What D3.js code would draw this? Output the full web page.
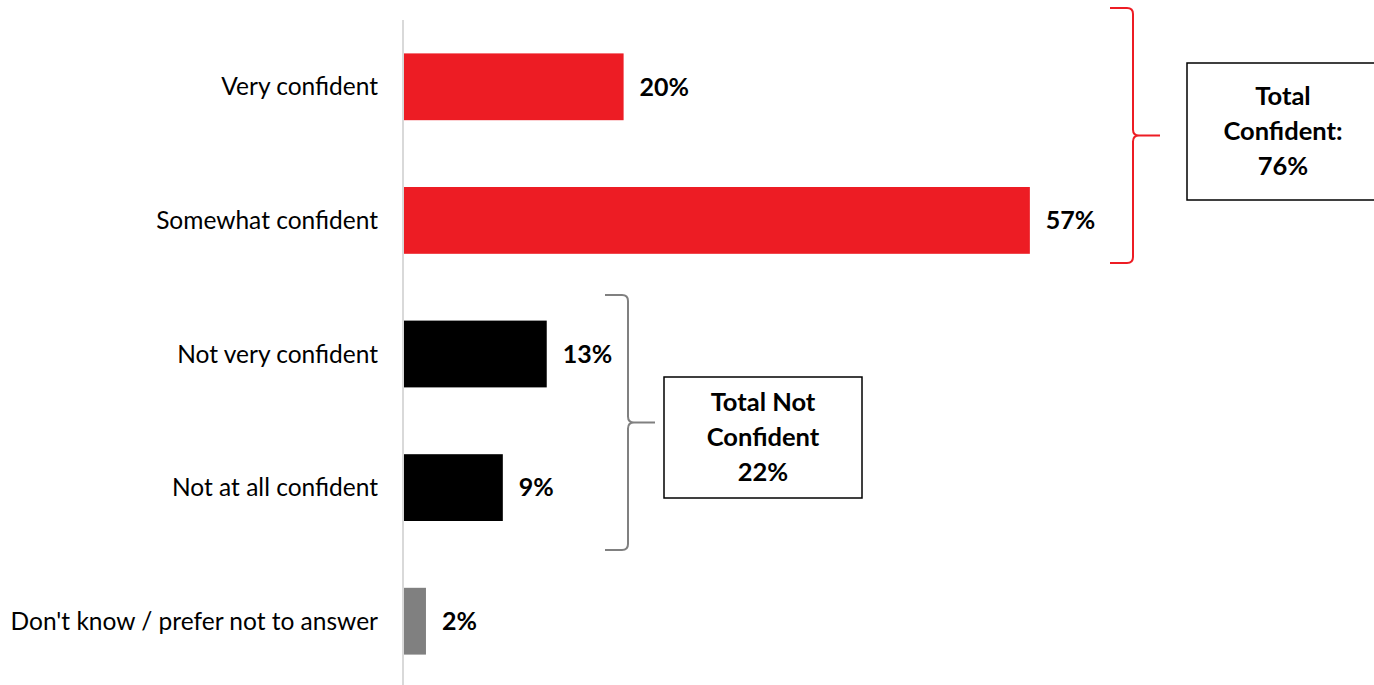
<!DOCTYPE html>
<html lang="en">
<head>
	<meta charset="UTF-8">
	<title>Confidence</title>
	<style>
		body{margin:0;background:#fff;}
		text{font-family:Lato,"Open Sans",sans-serif;}
	</style>
</head>
<body>
<script src="https://cdn.jsdelivr.net/npm/d3@7"></script>
<script>
	var categories=["Very confident","Somewhat confident","Not very confident","Not at all confident","Don't know / prefer not to answer"];
	var values=[20,57,13,9,2];
	var colors=["#ED1C24","#ED1C24","#000000","#000000","#808080"];
	var groups=[
		{from:0,to:1,label:["Total","Confident:","76%"],color:"#ED1C24"},
		{from:2,to:3,label:["Total Not","Confident","22%"],color:"#808080"}
	];

	var width=1374,height=685;
	var svg=d3.select('body').append('svg')
		.attr('width',width)
		.attr('height',height);

	var xScale=d3.scaleLinear().domain([0,100]).range([404,404+1098]);
	var yScale=d3.scaleBand().domain(categories).range([20,688]).paddingInner(0.5).paddingOuter(0.25);

	// axis line
	svg.append('line')
		.attr('x1',403).attr('x2',403)
		.attr('y1',20).attr('y2',685)
		.attr('stroke','#d9d9d9').attr('stroke-width',2);

	svg.selectAll('rect.bar')
		.data(values)
		.enter()
		.append('rect')
		.attr('class','bar')
		.attr('x',xScale(0))
		.attr('y',function(d,i){return yScale(categories[i]);})
		.attr('width',function(d){return xScale(d)-xScale(0);})
		.attr('height',yScale.bandwidth())
		.attr('fill',function(d,i){return colors[i];});

	svg.selectAll('text.cat')
		.data(categories)
		.enter()
		.append('text')
		.attr('class','cat')
		.attr('x',378)
		.attr('y',function(d){return yScale(d)+yScale.bandwidth()/2;})
		.attr('dy','0.35em')
		.attr('text-anchor','end')
		.attr('font-size',24.5)
		.attr('fill','#000')
		.text(function(d){return d;});

	svg.selectAll('text.val')
		.data(values)
		.enter()
		.append('text')
		.attr('class','val')
		.attr('x',function(d){return xScale(d)+16;})
		.attr('y',function(d,i){return yScale(categories[i])+yScale.bandwidth()/2;})
		.attr('dy','0.35em')
		.attr('font-size',25)
		.attr('font-weight','bold')
		.attr('fill','#000')
		.text(function(d){return d+'%';});

	// braces
	function brace(x,y0,y1,w,tip){
		var ym=(y0+y1)/2, r=6;
		return 'M'+(x-w)+','+y0
			+' L'+(x-r)+','+y0
			+' Q'+x+','+y0+' '+x+','+(y0+r)
			+' L'+x+','+(ym-r)
			+' Q'+x+','+ym+' '+(x+r)+','+ym
			+' L'+(x+tip)+','+ym
			+' M'+(x+r)+','+ym
			+' Q'+x+','+ym+' '+x+','+(ym+r)
			+' L'+x+','+(y1-r)
			+' Q'+x+','+y1+' '+(x-r)+','+y1
			+' L'+(x-w)+','+y1;
	}

	var braceX=[1133,628];
	var braceTop=[8,295];
	var braceBot=[263,550];
	var boxes=[{x:1187,y:63,w:190,h:137,cx:1283},{x:664,y:377,w:198,h:121,cx:763}];

	groups.forEach(function(g,i){
		svg.append('path')
			.attr('d',brace(braceX[i],braceTop[i],braceBot[i],23,27))
			.attr('fill','none')
			.attr('stroke',g.color)
			.attr('stroke-width',2);
		var b=boxes[i];
		svg.append('rect')
			.attr('x',b.x).attr('y',b.y)
			.attr('width',b.w).attr('height',b.h)
			.attr('fill','#fff')
			.attr('stroke','#000').attr('stroke-width',1.5);
		svg.selectAll('text.box'+i)
			.data(g.label)
			.enter()
			.append('text')
			.attr('class','box'+i)
			.attr('x',b.cx)
			.attr('y',function(d,j){return b.y+b.h/2+(j-1)*35;})
			.attr('dy','0.35em')
			.attr('text-anchor','middle')
			.attr('font-size',25.5)
			.attr('font-weight','bold')
			.attr('fill','#000')
			.text(function(d){return d;});
	});
</script>
</body>
</html>
